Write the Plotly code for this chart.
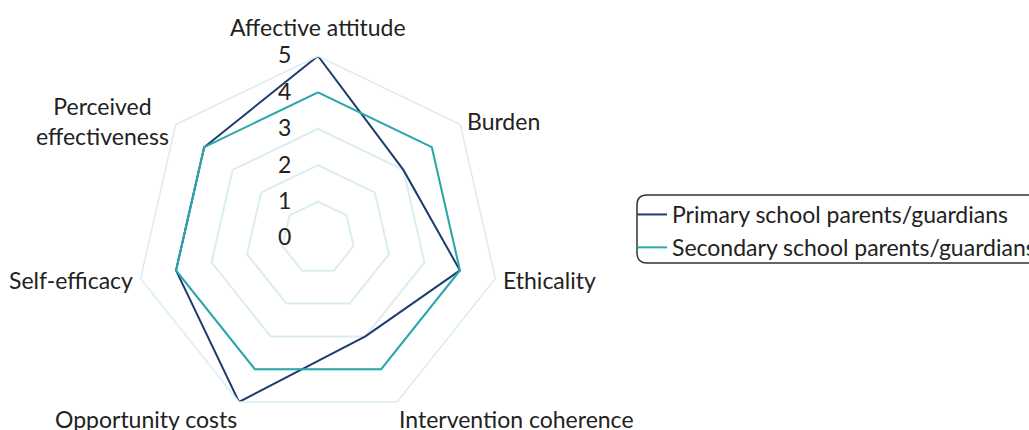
import math
import plotly.graph_objects as go

categories = ["Affective attitude", "Burden", "Ethicality", "Intervention coherence",
              "Opportunity costs", "Self-efficacy", "Perceived effectiveness"]
category_labels = ["Affective attitude", "Burden", "Ethicality", "Intervention coherence",
                   "Opportunity costs", "Self-efficacy", "Perceived<br>effectiveness"]
primary = [5, 3, 4, 3, 5, 4, 4]
secondary = [4, 4, 4, 4, 4, 4, 4]
radial_ticks = [0, 1, 2, 3, 4, 5]

W, H = 1029, 430
cx, cy, R = 318, 238, 182
FS = 23
TXT = "#222222"

fig = go.Figure()
fig.add_trace(go.Scatterpolar(
    r=primary + primary[:1], theta=categories + categories[:1],
    mode="lines", name="Primary school parents/guardians",
    line=dict(color="#1d3c72", width=2)))
fig.add_trace(go.Scatterpolar(
    r=secondary + secondary[:1], theta=categories + categories[:1],
    mode="lines", name="Secondary school parents/guardians",
    line=dict(color="#2aa7aa", width=2)))

grid = "#dcedf0"
fig.update_layout(
    width=W, height=H,
    margin=dict(l=0, r=0, t=0, b=0, autoexpand=False),
    paper_bgcolor="white",
    font=dict(family="Lato", size=FS, color=TXT),
    polar=dict(
        bgcolor="white",
        gridshape="linear",
        domain=dict(x=[(cx - R) / W, (cx + R) / W],
                    y=[(H - cy - R) / H, (H - cy + R) / H]),
        radialaxis=dict(range=[0, 5], tickvals=radial_ticks, angle=90, tickangle=90,
                        showline=False, gridcolor=grid, gridwidth=1.5,
                        ticks="outside", ticklen=18, tickcolor="rgba(0,0,0,0)",
                        side="counterclockwise",
                        tickfont=dict(size=FS, color=TXT)),
        angularaxis=dict(direction="clockwise", rotation=90,
                         showgrid=False, linecolor=grid, linewidth=1.5,
                         showticklabels=False, ticks=""),
    ),
    legend=dict(x=632 / W, y=1 - 193 / H, xanchor="left", yanchor="top",
                bgcolor="rgba(0,0,0,0)", borderwidth=0,
                font=dict(size=FS, color=TXT), itemwidth=30,
                tracegroupgap=0),
    showlegend=True,
)

# category labels placed just outside the outer polygon
n = len(categories)
for i, lab in enumerate(category_labels):
    a = math.radians(i * 360 / n)
    s, c = math.sin(a), math.cos(a)
    if c > 0.95:          # top label
        px, py, xa, ya = cx, cy - (R + 13), "center", "bottom"
    elif c < -0.8:        # bottom labels
        px, py = cx + R * s, cy - R * c + 1
        xa, ya = ("left" if s > 0 else "right"), "top"
    else:                 # side labels
        d = R + 6
        px, py = cx + d * s, cy - d * c
        xa, ya = ("left" if s > 0 else "right"), "middle"
    fig.add_annotation(x=px / W, y=1 - py / H, xref="paper", yref="paper",
                       text=lab, showarrow=False, xanchor=xa, yanchor=ya,
                       align="center", font=dict(size=FS, color=TXT))

# rounded legend frame
x0, x1 = 637 / W, 1100 / W
y0, y1 = 1 - 195 / H, 1 - 263 / H
rr = 10
rx, ry = rr / W, rr / H
path = (f"M {x0+rx},{y0} L {x1-rx},{y0} Q {x1},{y0} {x1},{y0-ry} "
        f"L {x1},{y1+ry} Q {x1},{y1} {x1-rx},{y1} L {x0+rx},{y1} "
        f"Q {x0},{y1} {x0},{y1+ry} L {x0},{y0-ry} Q {x0},{y0} {x0+rx},{y0} Z")
fig.add_shape(type="path", path=path, xref="paper", yref="paper",
              line=dict(color="#333333", width=1.5))

fig.write_html("out.html", config={"displayModeBar": False},
               post_script="document.body.style.margin='0';document.body.style.overflow='hidden';")
